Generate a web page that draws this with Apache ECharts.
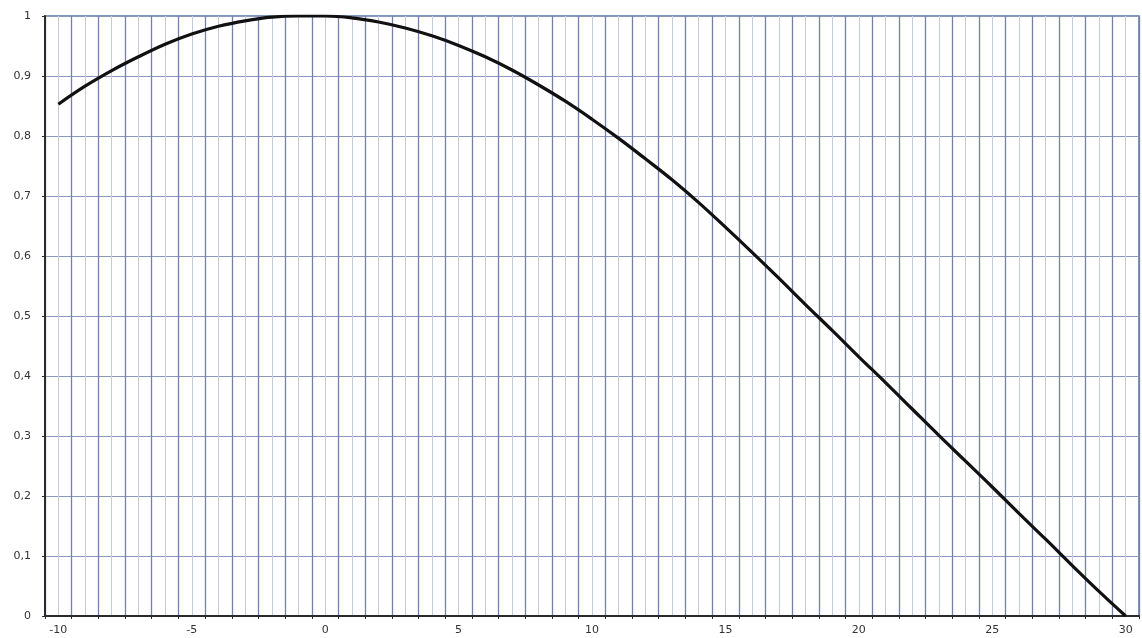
<!DOCTYPE html>
<html>
<head>
<meta charset="utf-8">
<script src="https://cdn.jsdelivr.net/npm/echarts@6/dist/echarts.min.js"></script>
<style>
  html, body { margin: 0; padding: 0; background: #ffffff; }
  #chart { width: 1142px; height: 638px; }
</style>
</head>
<body>
<div id="chart"></div>
<script>
// Curve samples: x positions and the corresponding relative values
const xValues = [-10, -9, -8, -7, -6, -5, -4, -3, -2, -1, 0, 1, 2, 3, 4, 5, 6, 7, 8, 9,
                 10, 11, 12, 13, 14, 15, 16, 17, 18, 19, 20, 21, 22, 23, 24, 25, 26, 27, 28, 29, 30];
const yValues = [0.853, 0.883, 0.909, 0.932, 0.953, 0.970, 0.983, 0.992, 0.998, 1.000,
                 1.000, 0.997, 0.990, 0.980, 0.967, 0.951, 0.932, 0.910, 0.885, 0.858,
                 0.828, 0.796, 0.762, 0.727, 0.689, 0.648, 0.606, 0.563, 0.519, 0.476,
                 0.432, 0.389, 0.345, 0.301, 0.258, 0.215, 0.171, 0.128, 0.084, 0.041, 0.000];
const xLabelValues = [-10, -5, 0, 5, 10, 15, 20, 25, 30];
const yLabelValues = [0, 0.1, 0.2, 0.3, 0.4, 0.5, 0.6, 0.7, 0.8, 0.9, 1];

const points = xValues.map((x, i) => [x, yValues[i]]);
const fontFamily = 'DejaVu Sans, Arial, sans-serif';
const labelColor = '#333333';

const chart = echarts.init(document.getElementById('chart'), null, { renderer: 'canvas' });
chart.setOption({
  animation: false,
  backgroundColor: '#ffffff',
  grid: {
    left: 45, top: 16, width: 1099, height: 600, containLabel: false,
    show: true, borderColor: '#5674a6', borderWidth: 1.5
  },
  xAxis: [
    {
      // data axis: fine vertical rules every 0.5 and labels every 5
      type: 'value', min: -10.5, max: 30.5, interval: 0.5,
      axisLine: { show: true, onZero: false, lineStyle: { color: '#2a2a2a', width: 2 } },
      axisTick: { show: false },
      axisLabel: {
        margin: 9, color: labelColor, fontSize: 11, fontFamily: fontFamily,
        formatter: v => (xLabelValues.indexOf(Math.round(v * 10) / 10) >= 0 ? String(v) : '')
      },
      splitLine: { show: true, lineStyle: { color: '#c4c9de', width: 1 } }
    },
    {
      // shifted helper axis: its whole-number ticks fall on the half steps of the data axis
      type: 'value', min: -10, max: 31, interval: 1, position: 'bottom',
      axisLine: { show: false },
      axisLabel: { show: false },
      axisTick: { show: true, inside: false, length: 3, lineStyle: { color: '#2a2a2a', width: 1 } },
      splitLine: { show: true, lineStyle: { color: '#7580ab', width: 1.3 } }
    }
  ],
  yAxis: {
    type: 'value', min: 0, max: 1, interval: 0.1,
    axisLine: { show: true, onZero: false, lineStyle: { color: '#2a2a2a', width: 2 } },
    axisTick: { show: true, length: 3, lineStyle: { color: '#2a2a2a' } },
    axisLabel: {
      margin: 14, color: labelColor, fontSize: 11, fontFamily: fontFamily,
      formatter: v => {
        const r = Math.round(v * 10) / 10;
        return yLabelValues.indexOf(r) >= 0 ? String(r).replace('.', ',') : '';
      }
    },
    splitLine: { show: true, lineStyle: { color: '#8d98c0', width: 1 } }
  },
  series: [{
    type: 'line',
    xAxisIndex: 0,
    data: points,
    smooth: 0.4,
    showSymbol: false,
    lineStyle: { color: '#111111', width: 3.2 },
    z: 5
  }]
});
</script>
</body>
</html>
